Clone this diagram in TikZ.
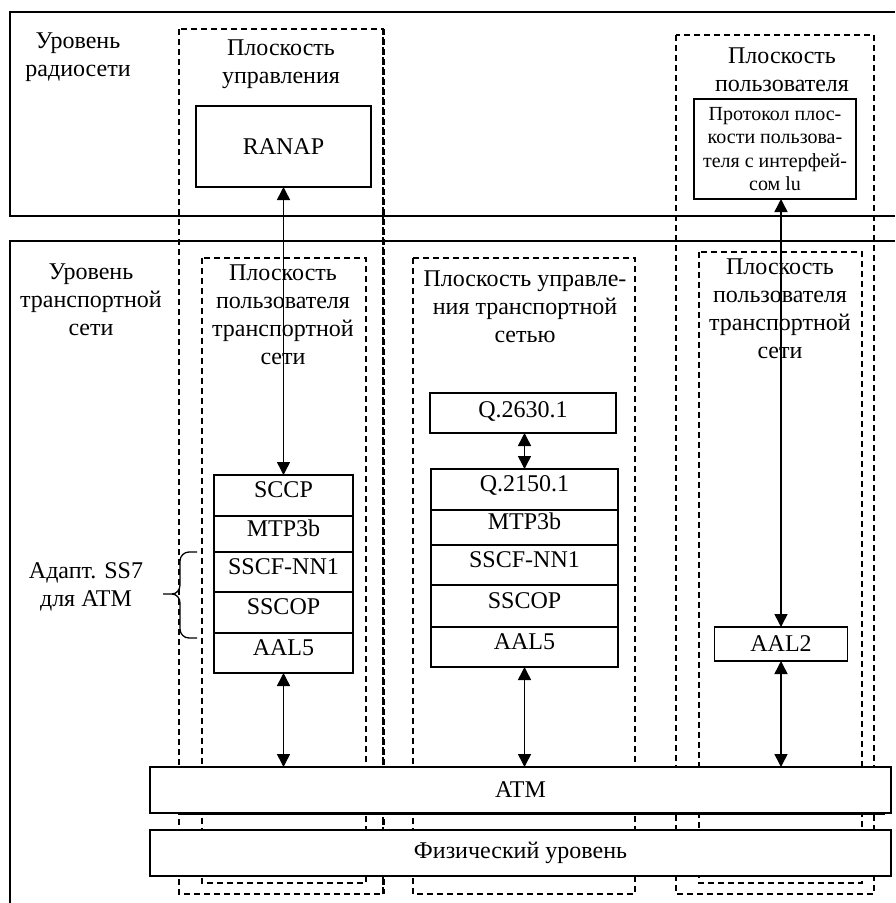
\documentclass[tikz,border=0pt]{standalone}
\usepackage{fontspec}
\setmainfont{Liberation Serif}
\usetikzlibrary{arrows.meta}

\tikzset{
  lbl/.style={align=center,font=\fontsize{24}{28}\selectfont},
  plane/.style={dash pattern=on 6pt off 4pt,line width=1.5pt},
  box/.style={draw,line width=1.6pt,fill=white,inner sep=0pt,outer sep=0pt,
    font=\fontsize{24}{28}\selectfont},
  cell/.style={box,text height=15pt,text depth=11pt},
  arr/.style={line width=1.5pt,{Triangle[length=13pt,width=13pt]}-{Triangle[length=13pt,width=13pt]}}
}

\begin{document}
\begin{tikzpicture}[x=1pt,y=-1pt]
%  \draw[help lines] (0,0) grid[step=50] (895,903);
    \useasboundingbox (0,0) rectangle (895,903);
    % planes (dashed)
    \draw[plane] (179,29) rectangle (383,894);
    \draw[plane,line width=3pt] (383,29) -- (383,894);
    \draw[plane] (676,35) rectangle (874,894);
    \draw[plane] (202,258) rectangle (366,883);
    \draw[plane] (413,258) rectangle (635,894);
    \draw[plane] (699,252) rectangle (862,883);
    % levels
    \draw[line width=1.6pt] (895,12) -| (10,216) -- (895,216);
    \draw[line width=1.6pt] (895,241) -| (10,903);
    \path (78,57) node(radio) [lbl] {Уровень\\радиосети}
    (91,300) node(transp) [lbl] {Уровень\\транспортной\\сети}
    (281,64) node(ctrl) [lbl] {Плоскость\\управления}
    (782,70) node(user) [lbl] {Плоскость\\пользователя}
    (283,315) node(userL) [lbl] {Плоскость\\пользователя\\транспортной\\сети}
    (525,307) node(ctrlT) [lbl] {Плоскость управле-\\ния транспортной\\сетью}
    (780,309) node(userR) [lbl] {Плоскость\\пользователя\\транспортной\\сети}
    (86,587) node(adapt) [lbl] {Адапт. SS7\\для ATM};
    \path (283.5,146.5) node(ranap) [box,minimum width=175pt,minimum height=81pt] {RANAP}
    (775,149) node(proto) [box,minimum width=162pt,minimum height=100pt,align=center,
      font=\fontsize{20}{23.5}\selectfont] {Протокол плос-\\кости пользова-\\теля с интерфей-\\сом lu}
    (523,413) node(q2630) [box,minimum width=186pt,minimum height=40pt,text height=15pt,text depth=7pt] {Q.2630.1};
    % left stack
    \path (283.5,495.5) node(sccp) [cell,minimum width=139pt,minimum height=41pt] {SCCP}
    (283.5,534) node(mtpL) [cell,minimum width=139pt,minimum height=36pt] {MTP3b}
    (283.5,572) node(sscfL) [cell,minimum width=139pt,minimum height=40pt] {SSCF-NN1}
    (283.5,612.5) node(sscopL) [cell,minimum width=139pt,minimum height=41pt] {SSCOP}
    (283.5,653) node(aal5L) [cell,minimum width=139pt,minimum height=40pt] {AAL5};
    % middle stack
    \path (524.5,489.5) node(q2150) [cell,minimum width=187pt,minimum height=41pt] {Q.2150.1}
    (524.5,527.5) node(mtpM) [cell,minimum width=187pt,minimum height=35pt] {MTP3b}
    (524.5,565) node(sscfM) [cell,minimum width=187pt,minimum height=40pt] {SSCF-NN1}
    (524.5,606) node(sscopM) [cell,minimum width=187pt,minimum height=42pt] {SSCOP}
    (524.5,647) node(aal5M) [cell,minimum width=187pt,minimum height=40pt] {AAL5};
    \path (781,644) node(aal2) [box,minimum width=133pt,minimum height=34pt] {AAL2};
    \draw[line width=3pt] (179,813) -- (885,813);
    \path (520.5,790) node(atm) [box,minimum width=741pt,minimum height=46pt] {ATM}
    (520.5,853) node(phys) [box,minimum width=741pt,minimum height=46pt] {Физический уровень};
    % brace
    \draw[line width=1.3pt] (197,552) -- (189,552) to[out=180,in=90] (180,561) -- (180,585)
      to[out=-90,in=0] (172,594) -- (163,594);
    \draw[line width=1.3pt] (172,594) to[out=0,in=90] (180,603) -- (180,629)
      to[out=-90,in=180] (189,638) -- (197,638);
    % arrows
    \draw[arr] (ranap) -- (sccp);
    \draw[arr] (q2630.south -| q2150) -- (q2150.north);
    \draw[arr] (aal5L.south) -- (aal5L.south |- atm.north);
    \draw[arr] (aal5M.south) -- (aal5M.south |- atm.north);
    \draw[arr] (aal2.north |- proto.south) -- (aal2.north);
    \draw[arr] (aal2.south) -- (aal2.south |- atm.north);
\end{tikzpicture}
\end{document}
